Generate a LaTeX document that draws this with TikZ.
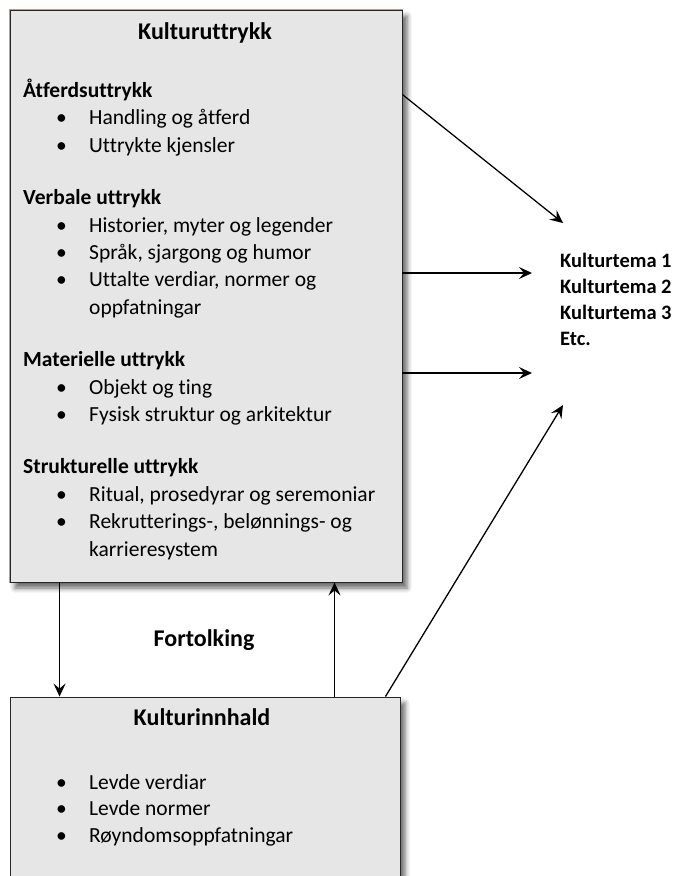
\documentclass[tikz,border=0pt]{standalone}
\usepackage{fontspec}
\setmainfont{Carlito}[Ligatures=NoCommon]
\usepackage{xcolor}
\usepackage{tikz}
\usetikzlibrary{arrows.meta,positioning,calc,shadows.blur}

\definecolor{boxfill}{HTML}{E6E6E6}
\definecolor{boxedge}{HTML}{C49E82}

% bullet line and continuation line inside the lists
\newcommand{\itm}{\hspace*{33pt}\makebox[33pt][l]{•}}
\newcommand{\cnt}{\hspace*{66pt}}

\begin{document}
\begin{tikzpicture}[
  x=1pt, y=-1pt,
  box/.style={draw=black!85, line width=0.9pt, fill=boxfill, inner sep=0pt,
    blur shadow={shadow xshift=5pt, shadow yshift=-6pt, shadow blur radius=5pt, shadow opacity=60}},
  tanbox/.style={box, preaction={draw=boxedge, line width=2.6pt}},
  ttl/.style={font=\fontsize{24}{28}\selectfont\bfseries, inner sep=0pt, anchor=base},
  lst/.style={font=\fontsize{21.5}{27.4}\selectfont, align=left, inner sep=0pt, anchor=base west},
  arr/.style={-{Stealth[length=13pt, width=12pt, inset=5pt]}, line width=1.3pt}
]
\path[use as bounding box] (0,0) rectangle (680,876);
\clip (0,0) rectangle (680,876);

\node[tanbox, minimum width=392pt, minimum height=572pt] (top) at (206,296) {};
\node[box, minimum width=390pt, minimum height=250pt] (bot) at (205,822) {};

\node[ttl] (toptitle) at (205,39) {Kulturuttrykk};
% anchored at the baseline of the last line
\node[lst] (toplist) at (23,556) {%
  \textbf{Åtferdsuttrykk}\\
  \itm Handling og åtferd\\
  \itm Uttrykte kjensler\\[25pt]
  \textbf{Verbale uttrykk}\\
  \itm Historier, myter og legender\\
  \itm Språk, sjargong og humor\\
  \itm Uttalte verdiar, normer og\\
  \cnt oppfatningar\\[25pt]
  \textbf{Materielle uttrykk}\\
  \itm Objekt og ting\\
  \itm Fysisk struktur og arkitektur\\[25pt]
  \textbf{Strukturelle uttrykk}\\
  \itm Ritual, prosedyrar og seremoniar\\
  \itm Rekrutterings-, belønnings- og\\
  \cnt karrieresystem};

\node[ttl] (bottitle) at (202,725) {Kulturinnhald};
\node[lst, font=\fontsize{21.5}{26.5}\selectfont] (botlist) at (23,842) {%
  \itm Levde verdiar\\
  \itm Levde normer\\
  \itm Røyndomsoppfatningar};

\node[ttl] (tolk) at (204,646) {Fortolking};

\node[lst, font=\fontsize{20.5}{26}\selectfont\bfseries] (tema) at (560,345) {%
  Kulturtema 1\\
  Kulturtema 2\\
  Kulturtema 3\\
  Etc.};

\coordinate (t1) at (563,223);
\coordinate (t2) at (532,273);
\coordinate (t3) at (532,373);
\coordinate (t4) at (563,405);

\draw[arr] ($(top.north east)+(0,85)$) -- (t1);
\draw[arr] (top.east |- t2) -- (t2);
\draw[arr] (top.east |- t3) -- (t3);
\draw[arr] ($(bot.north east)+(-15,0)$) -- (t4);
\draw[arr] ($(top.south west)+(50,0)$) -- ($(bot.north west)+(50,0)$);
\draw[arr] ($(bot.north west)+(325,0)$) -- ($(top.south west)+(325,0)$);
\end{tikzpicture}
\end{document}
